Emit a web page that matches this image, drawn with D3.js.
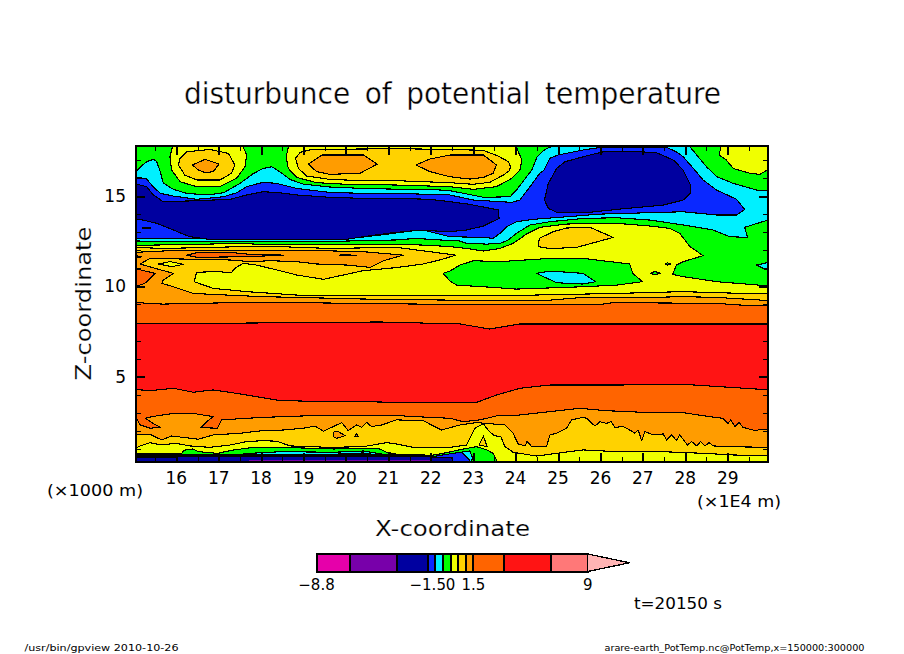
<!DOCTYPE html>
<html><head><meta charset="utf-8">
<style>html,body{margin:0;padding:0;background:#fff;overflow:hidden}svg{display:block}text{font-family:"DejaVu Sans";fill:#000}</style>
<script src="https://cdn.jsdelivr.net/npm/d3@7"></script></head><body>
<script>
// ---- data: contour regions in (x / 1E4 m, z / km) ----
const barLevels=[-8.8,-6.6,-3.5,-1.5,-1,-0.5,0,0.5,1,1.5,3.5,6.6,9];
const barColors=["#e600aa","#7800aa","#0000a0","#0a28ff","#00f0ff","#00ff00","#f0ff00","#ffd200","#ff9c00","#ff6400","#ff1414","#ff7878"];
const tipColor="#ffb4b4"; const tipEnd=11.75;
const barLabels=[["\u22128.8",-8.8],["\u22121.5",-1.5],["0",0],["1.5",1.5],["9",9]];
const xMajor=[16,17,18,19,20,21,22,23,24,25,26,27,28,29];
const xMinor=[15.5,16.5,17.5,18.5,19.5,20.5,21.5,22.5,23.5,24.5,25.5,26.5,27.5,28.5,29.5];
const zMajor=[5,10,15];
const zMinor=[1,2,3,4,6,7,8,9,11,12,13,14,16,17];

const cyanBig=[[15,16.35],[15.05,16.35],[15.18,16.66],[15.3,16.9],[15.46,17.03],[15.54,16.9],[15.62,16.35],[15.69,15.74],[15.93,15.37],[16.24,15.15],[16.72,15.06],[17.11,15.18],[17.5,15.7],[17.82,16.25],[18.05,16.53],[18.25,16.62],[18.44,16.35],[18.68,15.92],[18.99,15.66],[19.62,15.5],[20.41,15.42],[21.19,15.38],[21.98,15.37],[22.45,15.3],[23.24,14.93],[23.87,14.96],[24.02,15.33],[24.26,16.07],[24.38,16.44],[24.51,17.18],[24.69,17.58],[25,17.9],[28.05,17.9],[28.27,17.27],[28.5,16.62],[28.74,16.07],[29.13,15.7],[29.68,15.33],[30,15.33],[30,13.71],[29.4,13.27],[29.47,12.71],[29.05,12.75],[28.66,13.12],[27.95,13.4],[27.17,13.67],[26.38,13.8],[25.59,13.76],[24.81,13.58],[24.34,13.4],[24.02,12.94],[23.83,12.57],[23.63,12.38],[23.32,12.34],[22.84,12.38],[22.69,12.51],[21.98,12.6],[21.66,12.66],[21.19,12.57],[19.62,12.49],[17.27,12.49],[15,12.51]];
const blueBig=[[15,16.03],[15.29,15.98],[15.42,15.61],[15.62,15.15],[15.93,15],[16.48,14.82],[17.11,14.96],[17.42,15.18],[17.66,15.52],[18.05,15.76],[18.37,15.7],[18.84,15.42],[19.62,15.2],[20.41,15.15],[21.19,15.15],[21.98,15.09],[22.45,15.06],[23,14.78],[23.91,14.65],[24.1,14.78],[24.34,15.52],[24.57,16.26],[24.67,16.44],[24.81,17.09],[25,17.27],[25.59,17.55],[25.99,17.69],[27.56,17.69],[27.79,17.45],[27.95,17.18],[28.19,16.53],[28.42,15.89],[28.74,15.33],[29.21,14.82],[29.4,14.26],[29.21,13.95],[28.74,13.95],[27.95,14.13],[27.17,14.08],[25.99,14],[25.24,13.86],[24.42,13.71],[24.02,13.58],[23.79,13.3],[23.63,12.93],[23.47,12.66],[23.24,12.71],[22.45,12.75],[21.82,13.12],[21.59,13.08],[20.8,12.84],[20,12.62],[17.27,12.62],[15.93,12.66],[15,12.64]];
const darkLeft=[[15,15.7],[15.3,15.52],[15.46,15.06],[15.69,14.69],[16.48,14.74],[17.27,14.82],[17.66,15.06],[18.05,15.24],[18.44,15.18],[18.84,15.06],[19.62,14.93],[20.41,14.87],[21.19,14.87],[21.98,14.82],[22.45,14.69],[22.92,14.54],[23.59,14.23],[23.61,13.76],[23.24,13.34],[22.84,13.12],[22.45,13.03],[21.98,13.08],[21.59,13.08],[21.1,12.97],[20.41,12.75],[20,12.6],[18.44,12.6],[16.79,12.6],[16.32,12.75],[15.93,13.12],[15.54,13.49],[15.14,13.71],[15,13.71]];
const darkStreak=[[15.21,13.27],[15.38,13.27],[15.38,13.2],[15.21,13.2]];
const darkRight=[[24.68,14.78],[24.77,15.7],[24.97,16.53],[25.16,16.9],[25.75,17.27],[26.07,17.45],[26.62,17.49],[27.32,17.4],[27.72,16.99],[27.95,16.44],[28.12,15.61],[28.12,15.15],[27.95,14.78],[27.48,14.5],[26.38,14.26],[25.75,14.1],[24.97,14.1],[24.77,14.32]];
const yellowTopL=[[15.93,17.9],[15.85,17.18],[15.89,16.44],[16.09,15.79],[16.48,15.52],[17.03,15.52],[17.42,15.98],[17.62,16.62],[17.66,17.27],[17.54,17.9]];
const goldTopL=[[16.05,16.72],[16.09,17.09],[16.24,17.45],[16.79,17.58],[17.23,17.36],[17.38,16.72],[17.3,16.26],[17.03,15.89],[16.48,15.89],[16.2,16.16]];
const amberTopL=[[16.38,16.72],[16.68,17.03],[17.01,16.77],[16.87,16.35],[16.68,16.29],[16.52,16.44]];
const yellowTopM=[[18.66,17.9],[18.59,17.18],[18.64,16.53],[18.84,16.03],[19.31,15.74],[20.02,15.65],[21.19,15.61],[22.45,15.52],[23,15.37],[23.55,15.52],[23.91,15.98],[24.1,16.44],[24.15,16.99],[23.98,17.9]];
const goldTopM=[[18.81,17.09],[18.92,17.42],[19.19,17.58],[21.19,17.62],[22.45,17.58],[23.24,17.53],[23.59,17.21],[23.83,16.9],[23.88,16.62],[23.85,16.4],[23.71,16.16],[23.39,15.76],[23,15.65],[22.45,15.74],[21.19,15.85],[20.41,15.85],[19.62,15.92],[19.07,16.11],[18.88,16.53]];
const amberTopA=[[19.11,16.77],[19.43,17.27],[20.41,17.27],[20.74,16.77],[20.33,16.26],[19.62,16.2],[19.31,16.35]];
const amberTopB=[[21.65,16.72],[21.98,17.05],[22.45,17.27],[23.24,17.27],[23.55,16.72],[23.47,16.26],[23.24,16.03],[22.92,15.94],[22.45,16.07],[21.98,16.35]];
const yellowTopR=[[28.85,17.9],[28.8,17.27],[28.97,16.99],[29.13,16.53],[29.52,16.26],[29.76,16.2],[30,16.53],[30,17.9]];
const yellowLow=[[15,12.27],[16.09,12.31],[17.58,12.38],[18.05,12.31],[19.62,12.33],[21.19,12.34],[21.98,12.27],[22.45,12.2],[22.84,12.1],[23.24,11.96],[23.63,12.1],[23.94,12.38],[24.26,12.9],[24.57,13.27],[25.2,13.45],[25.75,13.49],[26.38,13.49],[27.17,13.34],[27.64,13.21],[27.87,12.93],[28.11,12.2],[28.42,11.7],[27.95,11.37],[27.79,11.18],[27.7,10.66],[27.95,10.54],[28.74,10.26],[30,10.02],[30,0],[15,0]];
const goldBlob=[[24.53,12.2],[24.56,12.66],[24.89,13.03],[25.2,13.23],[25.75,13.27],[26.3,12.71],[25.44,12.16],[24.81,12.09]];
const greenMid=[[22.29,10.72],[22.45,10.85],[22.69,11.18],[23,11.42],[23.63,11.37],[24.81,11.55],[25.59,11.55],[26.69,11.24],[26.76,10.72],[26.99,10.26],[26.38,10.07],[25.59,9.98],[24.02,9.85],[23.24,9.98],[22.61,10.07],[22.45,10.3]];
const cyanMid=[[24.49,10.72],[24.81,10.85],[25.59,10.72],[25.89,10.26],[25.59,10.13],[24.97,10.2]];
const greenSpeckA=[[27.17,10.72],[27.28,10.83],[27.42,10.72],[27.28,10.65]];
const greenSpeckB=[[27.52,11.24],[27.58,11.3],[27.65,11.24],[27.58,11.18]];
const cyanRight=[[30,11.35],[29.68,11.18],[29.91,10.91],[30,10.91]];
const goldLow=[[15,12.16],[15.69,12.1],[16.48,12.14],[17.58,12.2],[18.44,12.2],[19.62,12.1],[21.19,12.16],[21.98,11.92],[22.59,11.73],[22.21,11.46],[21.82,11.24],[21.19,11.04],[20.41,10.87],[19.94,10.63],[19.47,10.39],[18.84,10.63],[18.37,10.91],[17.89,11.18],[17.58,11.28],[17.38,11],[17.3,10.76],[16.95,10.82],[16.48,10.78],[16.42,10.26],[16.87,9.89],[17.66,9.71],[18.84,9.52],[20.41,9.48],[22.45,9.47],[24.02,9.5],[26.38,9.61],[27.95,9.71],[28.74,9.65],[30,9.58],[30,0.61],[29.13,0.67],[28.42,0.76],[27.48,0.85],[26.38,0.85],[25.59,0.95],[24.97,0.76],[24.49,0.61],[23.94,0.82],[23.75,1.13],[23.65,1.68],[23.5,1.74],[23.38,1.96],[23.24,2.39],[23.04,2.15],[22.84,1.22],[22.45,1.09],[21.59,1.09],[21.19,1.28],[20.96,1.35],[20.41,1.13],[19.62,1.09],[18.68,1.17],[18.37,1.43],[18.05,1.46],[17.66,1.41],[17.27,1.22],[16.79,1.09],[16.32,1.17],[15.97,1.32],[15.66,1.22],[15.38,1.35],[15.15,1.17],[15,0.98]];
const goldHump=[[23.14,1.22],[23.24,1.72],[23.33,1.13]];
const amberLow=[[15,11.88],[15.69,11.96],[17.27,12.01],[18.84,12.01],[20.41,11.92],[21.35,11.73],[20.88,11.42],[20.57,11.05],[20.02,11.18],[19.31,11.24],[18.84,11.37],[18.21,11.42],[17.74,11.37],[17.27,11.46],[16.24,11.51],[15.38,11.55],[15.15,11.24],[15.5,11],[15.93,10.72],[15.69,10.35],[15.66,10.17],[15.93,9.98],[16.4,9.61],[17.19,9.52],[18.05,9.43],[18.84,9.39],[20.41,9.3],[22.45,9.24],[24.81,9.24],[25.59,9.39],[27.17,9.39],[27.95,9.43],[28.74,9.39],[30,9.21],[30,1.09],[28.97,1.13],[28.66,1.17],[28.56,1.35],[28.46,1.17],[28.36,1.41],[28.27,1.17],[28.15,1.41],[28.05,1.22],[27.87,1.78],[27.79,1.46],[27.68,1.78],[27.56,1.5],[27.48,1.83],[27.24,1.78],[27.05,1.96],[26.97,1.46],[26.89,2.05],[26.81,1.87],[26.69,2.05],[26.54,2.24],[26.34,2.2],[26.25,2.51],[26.14,2.42],[25.99,2.51],[25.87,2.27],[25.67,2.7],[25.59,2.75],[25.32,2.61],[25.2,2.15],[24.97,1.87],[24.81,1.78],[24.73,1.13],[24.38,1.13],[24.27,1.41],[24.22,1.17],[24.06,1.28],[23.94,1.87],[23.75,2.33],[23.08,2.46],[22.69,2.33],[22.25,2.05],[21.82,2.57],[21.19,2.61],[20.84,2.33],[20.6,2.24],[20.49,2.48],[20.37,2.2],[20.25,2.33],[20.05,2.02],[19.9,2.46],[19.7,2.24],[19.47,1.98],[19.27,2.27],[19,2.15],[18.52,2.05],[18.05,2.02],[17.5,1.87],[16.87,1.78],[16.52,1.54],[15.89,1.72],[15.66,1.5],[15.38,1.81],[15,1.81]];
const yellowIsle=[[15.58,11.24],[15.85,11.37],[16.17,11.22],[15.89,11.09]];
const amberIsleA=[[19.72,1.96],[19.82,1.96],[19.98,1.74],[19.78,1.59],[19.7,1.68]];
const amberIsleB=[[20.25,1.87],[20.29,1.68],[20.21,1.68]];
const orangeMain=[[15,9.15],[15.3,9.06],[15.69,9.02],[16.48,9.06],[17.58,9.11],[18.84,9.1],[22.45,9],[24.81,9.02],[25.99,9],[26.3,9.1],[28.74,9.06],[29.52,8.93],[30,8.93],[30,2.05],[29.8,2.09],[29.64,2.02],[29.36,2.2],[29.27,2.46],[29.17,2.24],[29.07,2.61],[29.01,2.42],[28.88,2.7],[28.58,2.79],[27.95,3.01],[27,3.03],[26.14,3.12],[25.52,3.25],[24.81,3.07],[24.1,2.88],[23.55,2.83],[23.16,2.61],[22.77,2.51],[22.45,2.7],[21.98,2.75],[21.19,2.85],[20,2.83],[19,2.83],[18.05,2.75],[17.66,2.7],[17.07,2.61],[16.97,2.15],[16.58,2.18],[16.72,2.51],[16.87,2.79],[16.4,2.97],[15.93,2.97],[15.42,2.79],[15.28,2.7],[15.42,2.46],[15.62,2.2],[15.38,2.15],[15.15,2.33],[15.08,2.61],[15,2.61]];
const orangeBlob=[[15,11],[15.5,10.72],[15.26,10.17],[15.1,10.04],[15,10.04]];
const orangeStrip=[[16.24,11.73],[16.48,11.86],[17.27,11.88],[17.66,11.79],[18.52,11.73],[17.66,11.64],[16.48,11.61]];
const orangeSliver=[[19.86,11.74],[20.25,11.73],[20.25,11.71],[19.86,11.71]];
const orangeTip=[[15,11.73],[15.18,11.63],[15,11.55]];
const redMain=[[15,7.92],[20.8,8.03],[22.69,7.92],[23.39,7.64],[24.1,7.92],[30,7.92],[30,4.27],[27.95,4.58],[26.38,4.54],[24.81,4.54],[24.1,4.36],[23.55,3.99],[23.08,3.58],[22.45,3.58],[21.19,3.58],[20.41,3.62],[19.62,3.62],[18.44,3.68],[17.5,4.05],[16.87,4.27],[16.4,4.14],[15.93,4.36],[15.38,4.23],[15,4.3]];
const greenLow=[[16.1,0.67],[16.18,0.93],[16.38,1],[16.53,0.85],[16.97,0.76],[17.36,0.95],[17.83,1.09],[18.46,1.08],[19.29,1.04],[19.72,1],[20.21,1.04],[20.8,1],[20.96,0.82],[21.51,0.58],[21.98,0.63],[22.29,0.76],[22.77,1],[23.08,1.13],[23.32,0.95],[23.47,0.76],[23.55,0.39],[23.55,0.1],[16.1,0.1]];
const cyanLow=[[16.1,0.67],[16.5,0.67],[17.2,0.63],[17.75,0.76],[18.46,0.85],[19.72,0.82],[20.41,0.89],[20.88,0.71],[22.21,0.58],[22.53,0.76],[22.92,0.89],[22.99,0.48],[22.88,0.1],[16.1,0.1]];
const blueLow=[[15,0.63],[17.98,0.67],[19.72,0.71],[20.41,0.78],[20.88,0.63],[21.98,0.56],[22.53,0.76],[22.73,0.82],[22.92,0.39],[22.88,0.1],[15,0.1]];
const darkLow=[[15,0.54],[19.72,0.63],[20.65,0.67],[21.98,0.56],[22.49,0.54],[22.53,0.3],[22.53,0.1],[15,0.1]];
const blackLow=[[15,0.76],[16.1,0.72],[20.9,0.72],[21.95,0.66],[21.95,0.56],[15,0.58]];
const purpleLow=[[17.72,0.37],[21.98,0.37],[21.98,0.31],[17.72,0.31]];

const C={cyan:"#00f0ff",blue:"#0a28ff",dark:"#0000a0",yellow:"#f0ff00",gold:"#ffd200",amber:"#ff9c00",orange:"#ff6400",red:"#ff1414",green:"#00ff00",purple:"#7800aa"};
const layers=[[cyanBig,C.cyan],[blueBig,C.blue],[darkLeft,C.dark],[darkStreak,C.dark],[darkRight,C.dark],
[yellowTopL,C.yellow],[goldTopL,C.gold],[amberTopL,C.amber],[yellowTopM,C.yellow],[goldTopM,C.gold],[amberTopA,C.amber],[amberTopB,C.amber],[yellowTopR,C.yellow],
[yellowLow,C.yellow],[goldBlob,C.gold],[greenMid,C.green],[cyanMid,C.cyan],[greenSpeckA,C.green],[greenSpeckB,C.green],[cyanRight,C.cyan],
[goldLow,C.gold],[goldHump,C.gold],[amberLow,C.amber],[yellowIsle,C.yellow],[amberIsleA,C.amber],[amberIsleB,C.amber],
[orangeMain,C.orange],[orangeBlob,C.orange],[orangeStrip,C.orange],[orangeSliver,C.orange],[orangeTip,C.orange],[redMain,C.red],
[greenLow,C.green],[cyanLow,C.cyan],[blueLow,C.blue],[darkLow,C.dark],[blackLow,"#000"],[purpleLow,C.purple]];

// ---- drawing ----
const svg=d3.select("body").append("svg").attr("width",904).attr("height",654);
const L=136,R=768,T=146,B=462;
const x=d3.scaleLinear().domain([15.05,29.95]).range([L,R]);
const z=d3.scaleLinear().domain([0.28,17.77]).range([B,T]);
svg.append("defs").append("clipPath").attr("id","plot").append("rect").attr("x",L).attr("y",T).attr("width",R-L).attr("height",B-T);
const g=svg.append("g").attr("clip-path","url(#plot)").attr("shape-rendering","crispEdges");
g.append("rect").attr("x",L).attr("y",T).attr("width",R-L).attr("height",B-T).attr("fill",C.green);
const line=d3.line().x(d=>x(d[0])).y(d=>z(d[1])).curve(d3.curveLinearClosed);
g.selectAll("path").data(layers).join("path").attr("d",d=>line(d[0])).attr("fill",d=>d[1])
 .attr("stroke",d=>d[1]===C.purple?"none":"#000").attr("stroke-width",1.1).attr("stroke-linejoin","round");

function ax(gen,vals,size,w,tx,ty){
  const a=svg.append("g").attr("transform",`translate(${tx},${ty})`).attr("shape-rendering","crispEdges");
  a.call(gen.tickValues(vals).tickSize(size).tickFormat(""));
  a.select(".domain").remove();a.selectAll("line").attr("stroke","#000").attr("stroke-width",w);
  return a;
}
[[d3.axisBottom(x),0,B],[d3.axisTop(x),0,T]].forEach(([g0,tx,ty])=>{ax(g0,xMinor,-5,1,tx,ty);ax(g0,xMajor,-9,2,tx,ty);});
[[d3.axisLeft(z),L],[d3.axisRight(z),R]].forEach(([g0,tx])=>{ax(g0,zMinor,-5,1,tx,0);ax(g0,zMajor,-9,2,tx,0);});
svg.append("rect").attr("x",L).attr("y",T).attr("width",R-L).attr("height",B-T).attr("fill","none").attr("stroke","#000").attr("stroke-width",2.4).attr("shape-rendering","crispEdges");

// tick labels
const txt=(s,px,py,size,anchor,len)=>{const t=svg.append("text").attr("x",px).attr("y",py).attr("font-size",size).attr("text-anchor",anchor||"middle").text(s);
  if(len)t.attr("textLength",len).attr("lengthAdjust","spacingAndGlyphs");return t;};
const thin=(t,w)=>t.attr("stroke","#fff").attr("stroke-width",w);
xMajor.forEach(v=>txt(v,x(v),484,17));
zMajor.forEach(v=>txt(v,126,z(v)+6,17,"end"));
thin(txt("disturbunce of potential temperature",452.5,103.5,30,"middle",537),0.35).attr("word-spacing",6);
txt("(\u00d71000 m)",95,496,15,"middle",96);
txt("(\u00d71E4 m)",739,507,15,"middle",84);
thin(txt("X-coordinate",452.5,536,22,"middle",155),0.2);
thin(svg.append("text").attr("transform","translate(91,303.5) rotate(-90)").attr("text-anchor","middle").attr("font-size",22).attr("textLength",154).attr("lengthAdjust","spacingAndGlyphs").text("Z-coordinate"),0.2);
txt("t=20150 s",678,609,15,"middle",88);
txt("/usr/bin/gpview   2010-10-26",101.5,651,8.5,"middle",154);
txt("arare-earth_PotTemp.nc@PotTemp,x=150000:300000",734.5,651,8.5,"middle",260);

// colour bar
const bx=d3.scaleLinear().domain([-8.8,9]).range([316.5,587.7]);
const by=d3.scaleLinear().domain([0,1]).range([571.5,554]);
const cb=svg.append("g").attr("shape-rendering","crispEdges");
cb.selectAll("rect").data(barColors).join("rect").attr("x",(d,i)=>bx(barLevels[i])).attr("width",(d,i)=>bx(barLevels[i+1])-bx(barLevels[i]))
 .attr("y",by(1)).attr("height",by(0)-by(1)).attr("fill",d=>d).attr("stroke","#000").attr("stroke-width",2);
cb.append("path").attr("d",d3.line().x(d=>bx(d[0])).y(d=>by(d[1])).curve(d3.curveLinearClosed)([[9,0],[9,1],[tipEnd,0.5]])).attr("fill",tipColor).attr("stroke","#000").attr("stroke-width",1.3);
barLabels.forEach(([s,v])=>txt(s,bx(v),590,15));
</script></body></html>
